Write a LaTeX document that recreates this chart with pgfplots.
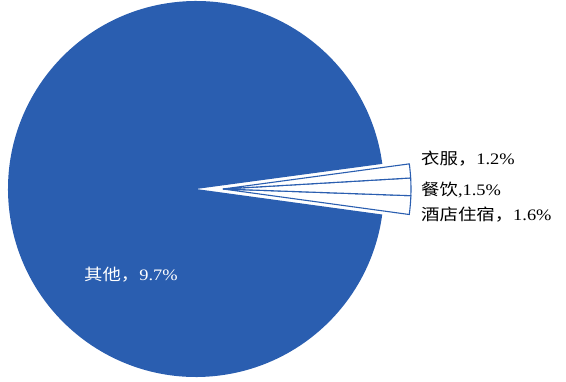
\documentclass[border=0pt]{standalone}
\usepackage{pgfplots}
\pgfplotsset{compat=1.18}
\usepackage{pgfplotstable}
\usepackage{fontspec}
\setmainfont{Liberation Serif}[FakeStretch=1.15]
\newfontfamily\cjk{Noto Sans CJK SC}[FakeStretch=1.15]
\definecolor{pieblue}{RGB}{42,94,176}

% small (exploded) slices, in order counter-clockwise from the start angle
\pgfplotstableread{
value
1.6
1.5
1.2
}\smallslices

\begin{document}
\begin{tikzpicture}
\pgfplotstablegetelem{0}{value}\of\smallslices \let\va\pgfplotsretval
\pgfplotstablegetelem{1}{value}\of\smallslices \let\vb\pgfplotsretval
\pgfplotstablegetelem{2}{value}\of\smallslices \let\vc\pgfplotsretval
\pgfmathsetmacro{\aA}{-7.8}
\pgfmathsetmacro{\aB}{\aA+3.6*\va}
\pgfmathsetmacro{\aC}{\aB+3.6*\vb}
\pgfmathsetmacro{\aD}{\aC+3.6*\vc}
\pgfmathsetmacro{\aE}{\aA+360}
\begin{axis}[scale only axis, width=566pt, height=381pt,
  xmin=0, xmax=566, ymin=0, ymax=381, hide axis, clip=false]
% remaining slice
\fill[pieblue] (axis cs:196,192) -- +(\aD:188pt) arc[start angle=\aD, end angle=\aE, radius=188pt] -- cycle;
% exploded slices
\filldraw[fill=white, draw=pieblue, line width=1.1pt, line join=miter]
  (axis cs:223,192) -- +(\aA:188pt) arc[start angle=\aA, end angle=\aB, radius=188pt] -- cycle;
\filldraw[fill=white, draw=pieblue, line width=1.1pt, line join=miter]
  (axis cs:223,192) -- +(\aB:188pt) arc[start angle=\aB, end angle=\aC, radius=188pt] -- cycle;
\filldraw[fill=white, draw=pieblue, line width=1.1pt, line join=miter]
  (axis cs:223,192) -- +(\aC:188pt) arc[start angle=\aC, end angle=\aD, radius=188pt] -- cycle;
% labels
\node[anchor=west, inner sep=0pt, font=\fontsize{16}{19}\selectfont] at (axis cs:421,222) {{\cjk 衣服，}1.2\%};
\node[anchor=west, inner sep=0pt, font=\fontsize{16}{19}\selectfont] at (axis cs:421,191) {{\cjk 餐饮}{,}1.5\%};
\node[anchor=west, inner sep=0pt, font=\fontsize{16}{19}\selectfont] at (axis cs:421,166) {{\cjk 酒店住宿，}1.6\%};
\node[anchor=west, inner sep=0pt, text=white, font=\fontsize{16}{19}\selectfont] at (axis cs:84,106) {{\cjk 其他，}9.7\%};
\end{axis}
\pgfresetboundingbox
\path[use as bounding box] (current axis.south west) rectangle (current axis.north east);
\end{tikzpicture}
\end{document}
